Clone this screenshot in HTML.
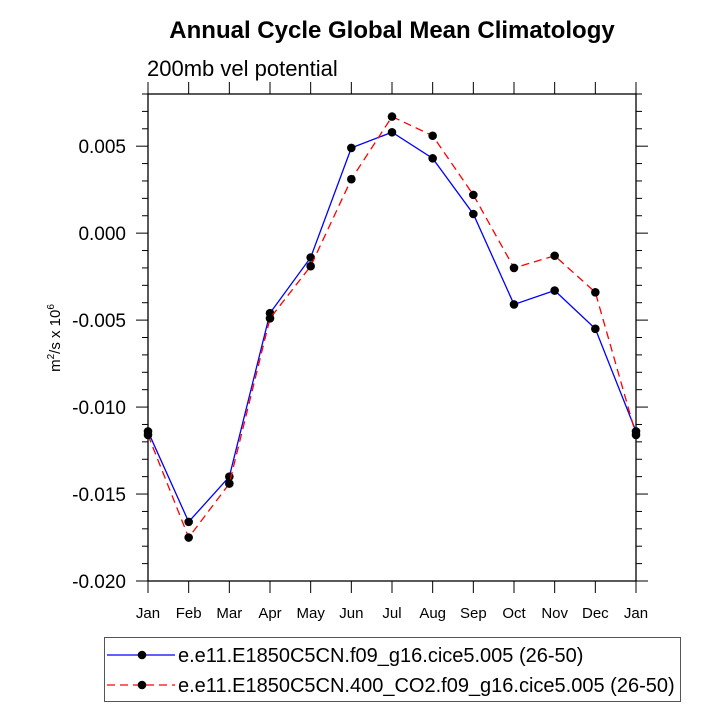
<!DOCTYPE html>
<html><head><meta charset="utf-8"><style>
body{margin:0;background:#fff;}
svg text{font-family:"Liberation Sans",sans-serif;}
</style></head><body>
<svg width="722" height="722" viewBox="0 0 722 722" xmlns="http://www.w3.org/2000/svg">
<text x="392" y="38" text-anchor="middle" font-size="24" font-weight="bold">Annual Cycle Global Mean Climatology</text>
<text x="147" y="76" font-size="22">200mb vel potential</text>
<text transform="translate(60,338) rotate(-90)" text-anchor="middle" font-size="15">m<tspan font-size="10" dy="-6">2</tspan><tspan dy="6">/s x 10</tspan><tspan font-size="10" dy="-6">6</tspan></text>
<g id="axes"></g>
<g id="series"></g>
<rect x="104.5" y="637.5" width="576" height="64" fill="none" stroke="#555" stroke-width="1"/>
<g>
<line x1="107" y1="655" x2="175" y2="655" stroke="#0000ff" stroke-width="1.3"/>
<circle cx="142" cy="655" r="4.3" fill="#000"/>
<text x="178" y="662" font-size="20">e.e11.E1850C5CN.f09_g16.cice5.005 (26-50)</text>
</g>
<g>
<line x1="107" y1="685" x2="175" y2="685" stroke="#ff0000" stroke-width="1.3" stroke-dasharray="8,5"/>
<circle cx="142" cy="685" r="4.3" fill="#000"/>
<text x="178" y="692" font-size="20">e.e11.E1850C5CN.400_CO2.f09_g16.cice5.005 (26-50)</text>
</g>
</svg>
<script>
const months=["Jan","Feb","Mar","Apr","May","Jun","Jul","Aug","Sep","Oct","Nov","Dec","Jan"];
const ctrl=[-0.0114,-0.0166,-0.0140,-0.0046,-0.0014,0.0049,0.0058,0.0043,0.0011,-0.0041,-0.0033,-0.0055,-0.0114];
const co2=[-0.0116,-0.0175,-0.0144,-0.0049,-0.0019,0.0031,0.0067,0.0056,0.0022,-0.0020,-0.0013,-0.0034,-0.0116];
const yTicks=[0.005,0.000,-0.005,-0.010,-0.015,-0.020];
const yTickLabels=["0.005","0.000","-0.005","-0.010","-0.015","-0.020"];
const L=148,R=636,T=94,B=581,yMin=-0.020,yMax=0.008;
const NS="http://www.w3.org/2000/svg";
const xs=i=>L+(R-L)*i/(months.length-1);
const ys=v=>B-(B-T)*(v-yMin)/(yMax-yMin);
function mk(tag,attrs,parent){const e=document.createElementNS(NS,tag);for(const k in attrs)e.setAttribute(k,attrs[k]);parent.appendChild(e);return e;}
const ax=document.getElementById('axes');
const frame=mk('rect',{x:L,y:T,width:R-L,height:B-T,fill:'none',stroke:'#000','stroke-width':1.3},ax);


for(let k=0;k<=28;k++){const v=yMin+k*0.001;const y=ys(v);const major=(k%5===0);const len=major?12:6;
 mk('line',{x1:L-len,y1:y,x2:L,y2:y,stroke:'#000','stroke-width':1},ax);
 mk('line',{x1:R,y1:y,x2:R+len,y2:y,stroke:'#000','stroke-width':1},ax);}
yTicks.forEach((v,i)=>{const t=mk('text',{x:L-22,y:ys(v)+7,'text-anchor':'end','font-size':19},ax);t.textContent=yTickLabels[i];
 
 });
months.forEach((m,i)=>{const x=xs(i);
 mk('line',{x1:x,y1:B,x2:x,y2:B+12,stroke:'#000','stroke-width':1},ax);
 mk('line',{x1:x,y1:T-12,x2:x,y2:T,stroke:'#000','stroke-width':1},ax);
 const t=mk('text',{x:x,y:B+37,'text-anchor':'middle','font-size':15},ax);t.textContent=m;
 
 });
const sg=document.getElementById('series');
function draw(vals,color,dash,name){
 const g=mk('g',{},sg);
 
 
 mk('polyline',{points:vals.map((v,i)=>xs(i)+','+ys(v)).join(' '),fill:'none',stroke:color,'stroke-width':1.3,'stroke-dasharray':dash},g);
 vals.forEach((v,i)=>{const c=mk('circle',{cx:xs(i),cy:ys(v),r:4.3,fill:'#000'},g);
  
  });
}
draw(ctrl,'#0000ff','none','series-control');
draw(co2,'#ff0000','8,5','series-co2');
</script>
</body></html>
